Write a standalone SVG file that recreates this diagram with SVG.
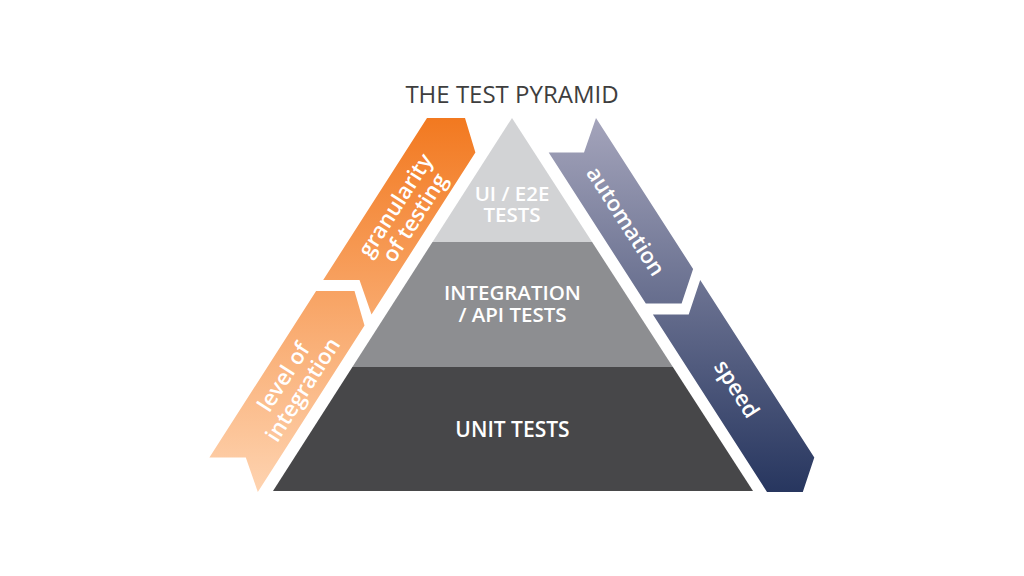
<svg xmlns="http://www.w3.org/2000/svg" width="1024" height="576" viewBox="0 0 1024 576">
  <defs>
    <linearGradient id="gOrange" gradientUnits="userSpaceOnUse" x1="0" y1="118" x2="0" y2="492">
      <stop offset="0" stop-color="#f27920"/>
      <stop offset="1" stop-color="#fed3b0"/>
    </linearGradient>
    <linearGradient id="gBlue" gradientUnits="userSpaceOnUse" x1="0" y1="118" x2="0" y2="492">
      <stop offset="0" stop-color="#a4a4bb"/>
      <stop offset="1" stop-color="#27365f"/>
    </linearGradient>
  </defs>
  <style>
    text { font-family: "Open Sans", "Liberation Sans", sans-serif; }
    .title { font-size: 24px; font-weight: 500; fill: #3e3e3e; text-anchor: middle; }
    .layer { font-size: 20.5px; font-weight: 600; fill: #ffffff; text-anchor: middle; }
    .rib { font-size: 22px; font-weight: 600; fill: #ffffff; text-anchor: middle; }
  </style>
  <rect width="1024" height="576" fill="#ffffff"/>

  <g id="title">
    <text class="title" x="512" y="103">THE TEST PYRAMID</text>
  </g>

  <g id="layer-ui">
    <polygon points="512,118 592.1,242 432.5,242" fill="#d2d3d5"/>
    <text class="layer" x="512" y="200.5">UI / E2E<tspan x="512" dy="21.5">TESTS</tspan></text>
  </g>

  <g id="layer-integration">
    <polygon points="432.5,242 592.1,242 672.9,367 352.4,367" fill="#8d8e91"/>
    <text class="layer" x="512.5" y="300">INTEGRATION<tspan x="512.5" dy="21.5">/ API TESTS</tspan></text>
  </g>

  <g id="layer-unit">
    <polygon points="352.4,367 672.9,367 753,491 273,491" fill="#474749"/>
    <text class="layer" x="512.5" y="436.5" style="font-size:21px">UNIT TESTS</text>
  </g>

  <g id="ribbon-granularity">
    <polygon points="427,118 465,118 475.4,152.5 371.5,314.5 359.5,280 323.2,280" fill="url(#gOrange)"/>
    <g transform="translate(406,212) rotate(-57.3)">
      <text class="rib" x="0" y="-5">granularity<tspan x="0" dy="23">of testing</tspan></text>
    </g>
  </g>

  <g id="ribbon-integration-level">
    <polygon points="316.1,291 354.5,291 364.5,325.5 257.8,492 245.8,457.5 209.4,457.5" fill="url(#gOrange)"/>
    <g transform="translate(294,384) rotate(-57.3)">
      <text class="rib" x="0" y="-5">level of<tspan x="0" dy="23">integration</tspan></text>
    </g>
  </g>

  <g id="ribbon-automation">
    <polygon points="596,118 584,152.5 548.7,152.5 645.8,303.5 681.6,303.5 693.1,269" fill="url(#gBlue)"/>
    <g transform="translate(626,221) rotate(57.3)">
      <text class="rib" x="0" y="8">automation</text>
    </g>
  </g>

  <g id="ribbon-speed">
    <polygon points="700.2,280 688.7,314.5 652.9,314.5 767,492 802.8,492 814.3,457.5" fill="url(#gBlue)"/>
    <g transform="translate(735,390) rotate(57.3)">
      <text class="rib" x="0" y="5.5">speed</text>
    </g>
  </g>

  <g id="connectors"/>
</svg>
